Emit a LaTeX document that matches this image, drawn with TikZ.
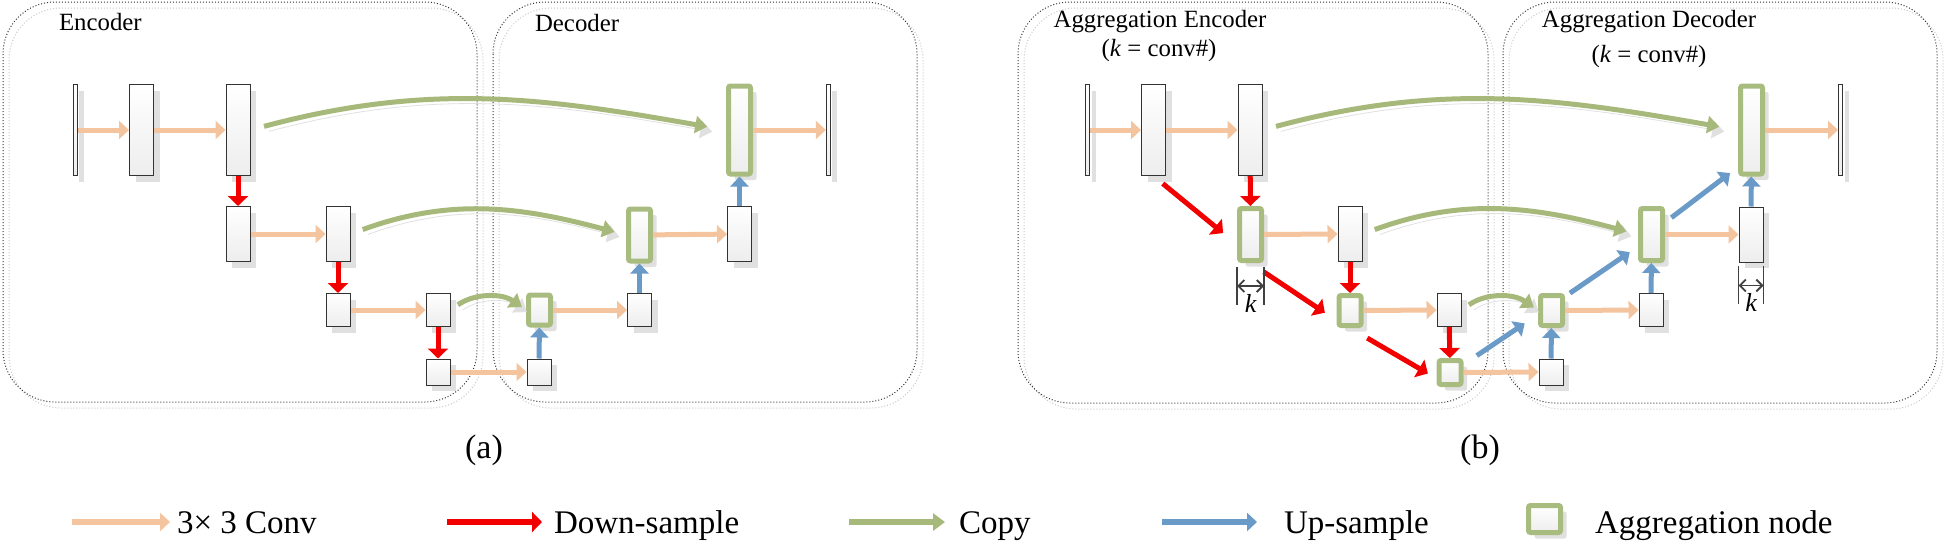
\documentclass[tikz,border=0pt]{standalone}
\usepackage{fontspec}
\setmainfont{Liberation Serif}
\usetikzlibrary{positioning,arrows.meta,shadows}
\definecolor{conv}{HTML}{F4C49E}
\definecolor{down}{HTML}{F20000}
\definecolor{up}{HTML}{6A9AC8}
\definecolor{cpy}{HTML}{A6B97A}
\definecolor{aggc}{HTML}{A9BC80}

\begin{document}
\begin{tikzpicture}[x=0.5pt,y=0.5pt,font=\fontsize{12.4}{14}\selectfont,>=Latex]
\tikzstyle{blk}=[draw=black!80,line width=0.5pt,top color=white,bottom color=black!7,inner sep=0pt,minimum width=12pt,drop shadow={shadow xshift=3pt,shadow yshift=-3pt,fill=black!12,opacity=1}]
\tikzstyle{agg}=[blk,draw=aggc,line width=2.5pt,rounded corners=1pt,minimum width=11pt]
\tikzstyle{bar}=[blk,minimum width=2.2pt,minimum height=45.5pt]
\tikzstyle{tall}=[blk,minimum height=45.5pt]
\tikzstyle{mid}=[blk,minimum height=27.5pt]
\tikzstyle{sq}=[blk,minimum height=16.5pt]
\tikzstyle{low}=[blk,minimum height=13pt]
\tikzstyle{cv}=[draw=conv,line width=2.5pt,-{Triangle[length=5pt,width=9pt]}]
\tikzstyle{dn}=[draw=down,line width=2.5pt,-{Triangle[length=5pt,width=10pt]}]
\tikzstyle{upa}=[draw=up,line width=2.5pt,-{Triangle[length=5pt,width=9pt]}]
\tikzstyle{cpl}=[draw=cpy,line width=2.5pt,-{Triangle[length=6pt,width=8.5pt]}]
\tikzstyle{cp}=[cpl,preaction={draw=black!12,transform canvas={shift={(2.5pt,-2.5pt)}}}]
\tikzstyle{reg}=[draw=black!80,densely dotted,line width=0.5pt,rounded corners=26pt]
\tikzstyle{regsh}=[draw=black!22,densely dotted,line width=0.5pt,rounded corners=26pt]
\tikzstyle{dim}=[draw=black!75,line width=0.9pt]
\tikzstyle{leg}=[anchor=base west,font=\fontsize{16.5}{19}\selectfont]
\useasboundingbox (0,0) rectangle (1946,-546);

% (a) U-Net
\draw[regsh] (9,-8) rectangle (483,-408);
\draw[reg] (3,-2) rectangle (477,-402);
\draw[regsh] (499,-8) rectangle (923,-408);
\draw[reg] (493,-2) rectangle (917,-402);
\node[anchor=base west] (tenc) at (52,-30) {Encoder};
\node[anchor=base west] (tdec) at (528,-32) {Decoder};

\node[bar] (in1) at (75.5,-130) {};
\node[tall] (c11) at (141.5,-130) {};
\node[tall] (c12) at (238,-130) {};
\node[mid] (c21) at (238,-234) {};
\node[mid] (c22) at (338,-234) {};
\node[sq] (c31) at (338,-310) {};
\node[sq] (c32) at (438,-310) {};
\node[low] (c41) at (438,-372) {};
\node[low] (u41) at (539,-372) {};
\node[agg,minimum height=15pt] (g3) at (539.5,-310) {};
\node[sq] (u31) at (639.5,-310) {};
\node[agg,minimum height=26pt] (g2) at (639.5,-235) {};
\node[mid] (u21) at (739.5,-234) {};
\node[agg,minimum height=44pt] (g1) at (739.5,-130) {};
\node[bar] (out1) at (828.5,-130) {};

\draw[cv] (in1) -- (c11);
\draw[cv] (c11) -- (c12);
\draw[cv] (c21) -- (c22);
\draw[cv] (c31) -- (c32);
\draw[cv] (c41) -- (u41);
\draw[cv] (g3) -- (u31);
\draw[cv] (g2) -- (u21);
\draw[cv] (g1) -- (out1);
\draw[dn] (c12) -- (c21);
\draw[dn] (c22) -- (c31);
\draw[dn] (c32) -- (c41);
\draw[upa] (u41) -- (g3);
\draw[upa] (u31) -- (g2);
\draw[upa] (u21) -- (g1);
\draw[cp,shorten <=7pt,shorten >=9.5pt] (c12.east) to[out=15,in=170] (g1.west);
\draw[cp,shorten <=6.5pt,shorten >=6pt] (c22.east) to[out=20,in=165] (g2.west);
\draw[cp,shorten <=4.5pt,shorten >=2.5pt] (c32.east) to[out=35,in=145] (g3.west);

% (b) aggregation
\begin{scope}[xshift=506pt]
\draw[regsh] (12,-8) rectangle (482,-409);
\draw[reg] (6,-2) rectangle (476,-403);
\draw[regsh] (497,-8) rectangle (931,-409);
\draw[reg] (491,-2) rectangle (925,-403);
\node[anchor=base] (tagge) at (148,-27) {Aggregation Encoder};
\node[anchor=base] (tke) at (147,-56) {(\textit{k} = conv\#)};
\node[anchor=base] (taggd) at (637,-27) {Aggregation Decoder};
\node[anchor=base] (tkd) at (637,-62) {(\textit{k} = conv\#)};

\node[bar,minimum width=2pt] (in2) at (75.5,-130) {};
\node[tall] (e11) at (141.5,-130) {};
\node[tall] (e12) at (238,-130) {};
\node[agg,minimum height=26pt] (h21) at (238.5,-234.5) {};
\node[mid] (e22) at (338,-234) {};
\node[agg,minimum height=15pt] (h31) at (338,-310.5) {};
\node[sq] (e32) at (437,-310) {};
\node[agg,minimum height=12pt] (h41) at (438,-372.5) {};
\node[low] (v41) at (539,-372) {};
\node[agg,minimum height=15pt] (h32) at (539.5,-310.5) {};
\node[sq] (v31) at (639,-310) {};
\node[agg,minimum height=26pt] (h22) at (639.5,-234.5) {};
\node[mid] (v21) at (739,-234.5) {};
\node[agg,minimum height=44pt] (h12) at (739.5,-130) {};
\node[bar,minimum width=2pt] (out2) at (828.5,-130) {};

\draw[cv] (in2) -- (e11);
\draw[cv] (e11) -- (e12);
\draw[cv] (h21) -- (e22);
\draw[cv] (h31) -- (e32);
\draw[cv] (h41) -- (v41);
\draw[cv] (h32) -- (v31);
\draw[cv] (h22) -- (v21);
\draw[cv] (h12) -- (out2);
\draw[dn] (e12) -- (h21);
\draw[dn] (e22) -- (h31);
\draw[dn] (e32) -- (h41);
\draw[dn,shorten <=6pt,shorten >=9pt] (e11.south) -- ([yshift=-5pt]h21.west);
\draw[dn,shorten <=8pt,shorten >=7pt] (h21.south) -- ([yshift=-5pt]h31.west);
\draw[dn,shorten <=10pt,shorten >=5pt] (h31.south) -- ([yshift=-3pt]h41.west);
\draw[upa] (v41) -- (h32);
\draw[upa] (v31) -- (h22);
\draw[upa] (v21) -- (h12);
\draw[upa,shorten <=8pt,shorten >=8pt] ([yshift=4pt]h41.east) -- ([yshift=-2pt]h32.west);
\draw[upa,shorten <=3pt,shorten >=5pt] ([yshift=7pt]h32.east) -- ([yshift=-6pt]h22.west);
\draw[upa,shorten <=4pt,shorten >=5pt] ([yshift=6pt]h22.east) -- ([yshift=-18.5pt]h12.west);
\draw[cp,shorten <=7pt,shorten >=9.5pt] (e12.east) to[out=15,in=170] (h12.west);
\draw[cp,shorten <=6.5pt,shorten >=6pt] (e22.east) to[out=20,in=165] (h22.west);
\draw[cp,shorten <=4.5pt,shorten >=2.5pt] (e32.east) to[out=35,in=145] (h32.west);

\draw[dim] ([yshift=-2pt]h21.south west) -- ++(0,-38);
\draw[dim] ([yshift=-2pt]h21.south east) -- ++(0,-38);
\draw[dim,{Straight Barb[length=3pt]}-{Straight Barb[length=3pt]}] ([yshift=-11.5pt]h21.south west) -- ([yshift=-11.5pt]h21.south east);
\node[font=\fontsize{13}{14}\selectfont\itshape] (k1) at ([yshift=-20pt]h21.south) {k};
\draw[dim] ([yshift=-1.5pt]v21.south west) -- ++(0,-38);
\draw[dim] ([yshift=-1.5pt]v21.south east) -- ++(0,-38);
\draw[dim,{Straight Barb[length=3pt]}-{Straight Barb[length=3pt]}] ([yshift=-11.5pt]v21.south west) -- ([yshift=-11.5pt]v21.south east);
\node[font=\fontsize{13}{14}\selectfont\itshape] (k2) at ([yshift=-20pt]v21.south) {k};
\end{scope}

\node[anchor=base,font=\fontsize{17}{20}\selectfont] (capa) at (484,-458) {(a)};
\node[anchor=base,font=\fontsize{17}{20}\selectfont] (capb) at (1480,-458) {(b)};

% legend
\coordinate (l1) at (72,-522);
\coordinate (l2) at (447,-522);
\coordinate (l3) at (849,-522);
\coordinate (l4) at (1162,-522);
\node[leg] (t1) at (170,-533) {3× 3 Conv};
\node[leg] (t2) at (547,-533) {Down-sample};
\node[leg] (t3) at (952,-533) {Copy};
\node[leg] (t4) at (1277,-533) {Up-sample};
\node[agg,minimum width=16pt,minimum height=13.5pt] (lg) at (1544.5,-519) {};
\node[leg] (t5) at (1588,-533) {Aggregation node};
\draw[cv,line width=3pt] (l1) -- (l1 -| t1.west);
\draw[dn,line width=3pt,shorten >=2.5pt] (l2) -- (l2 -| t2.west);
\draw[cpl,line width=3pt,shorten >=3.5pt] (l3) -- (l3 -| t3.west);
\draw[upa,line width=3pt,shorten >=10pt] (l4) -- (l4 -| t4.west);
\end{tikzpicture}
\end{document}
